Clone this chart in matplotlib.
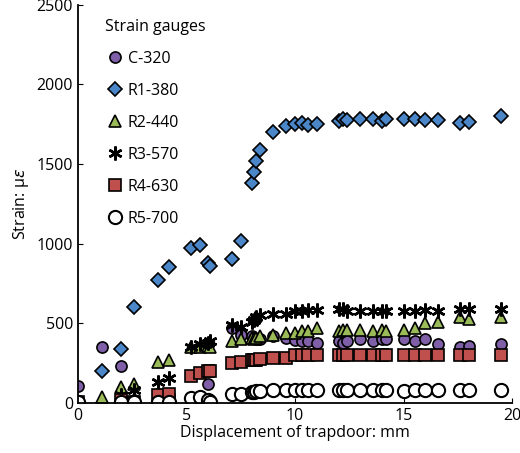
import numpy as np
import matplotlib
matplotlib.use("Agg")
import matplotlib.pyplot as plt

plt.rcParams['font.family'] = ['Open Sans', 'DejaVu Sans']

nan = np.nan
x = [0, 1.1, 2.0, 2.6, 3.7, 4.2, 5.2, 5.6, 6.0, 6.1, 7.1, 7.5, 8.0, 8.1, 8.2, 8.4, 9.0, 9.6, 10.0, 10.3,
     10.6, 11.0, 12.0, 12.2, 12.4, 13.0, 13.6, 14.0, 14.2, 15.0, 15.5, 16.0, 16.6, 17.6, 18.0, 19.5]
c320 = [110, 350, 230, 20, 60, 50, 20, 30, 120, 20, 470, 430, 420, 410, 400, 400, 420, 410, 395, 390,
        390, 380, 390, 380, 390, 400, 390, 400, 400, 400, 390, 400, 370, 350, 360, 370]
r1 = [10, 200, 340, 600, 775, 855, 970, 990, 880, 860, 905, 1020, 1380, 1450, 1520, 1590, 1700, 1740, 1750, 1760,
      1745, 1750, 1770, 1780, 1775, 1780, 1780, 1770, 1780, 1780, 1785, 1775, 1775, 1760, 1765, 1800]
r2 = [5, 40, 100, 120, 260, 270, 350, 350, 360, 350, 390, 400, 410, 400, 410, 420, 430, 440, 440, 450,
      450, 470, 450, 460, 460, 460, 450, 460, 450, 460, 470, 500, 510, 540, 530, 540]
r3 = [10, nan, 50, 80, 130, 160, 350, 370, 380, 390, 490, 480, 510, 520, 540, 550, 560, 560, 580, 580,
      585, 585, 590, 590, 580, 580, 580, 580, 580, 580, 580, 585, 580, 590, 590, 590]
r4 = [5, nan, 20, 10, 50, 60, 170, 190, 200, 200, 250, 260, 270, 270, 270, 280, 285, 285, 300, 300,
      300, 300, 300, 300, 300, 300, 300, 300, 300, 300, 300, 300, 300, 300, 300, 300]
r5 = [5, nan, 10, 5, 5, 5, 30, 40, 20, 10, 60, 60, 70, 70, 75, 75, 80, 80, 80, 80,
      80, 80, 80, 80, 80, 80, 80, 80, 80, 75, 80, 80, 80, 80, 80, 80]

fig, ax = plt.subplots(figsize=(5.2, 4.53), dpi=100)
fig.subplots_adjust(left=0.15, right=0.985, bottom=0.11, top=0.99)
kw = dict(linestyle='none', markeredgecolor='black', markeredgewidth=1.2, markersize=8)
ax.plot(x, c320, marker='o', color='#7F60A8', label='C-320', **kw)
ax.plot(x, r1, marker='D', color='#4A86C8', label='R1-380', **{**kw, 'markersize': 7})
ax.plot(x, r2, marker='^', color='#9BBB59', label='R2-440', **{**kw, 'markersize': 9})
ax.plot(x, r3, marker=(6, 2, 0), color='black', label='R3-570', **{**kw, 'markersize': 10, 'markeredgewidth': 1.8})
ax.plot(x, r4, marker='s', color='#C0504D', label='R4-630', **kw)
ax.plot(x, r5, marker='o', color='white', label='R5-700', **{**kw, 'markersize': 9.5, 'markeredgewidth': 1.5})

ax.set_xlim(0, 20)
ax.set_ylim(0, 2500)
ax.set_xticks([0, 5, 10, 15, 20])
ax.set_yticks(range(0, 2501, 500))
ax.spines['top'].set_visible(False)
ax.spines['right'].set_visible(False)
ax.spines['left'].set_linewidth(1.3)
ax.spines['bottom'].set_linewidth(1.3)
ax.tick_params(direction='in', labelsize=11.5)
ax.set_xlabel('Displacement of trapdoor: mm', fontsize=11.5, labelpad=1)
ax.set_ylabel('Strain: μ$\\varepsilon$', fontsize=11.5)
leg = ax.legend(title='Strain gauges', loc='upper left', bbox_to_anchor=(0.03, 1.0), frameon=False,
                fontsize=11.5, title_fontsize=11.5, labelspacing=1.0, handletextpad=0.2, handlelength=1.2)
leg._legend_box.align = 'left'
fig.savefig('out.png', dpi=100)
